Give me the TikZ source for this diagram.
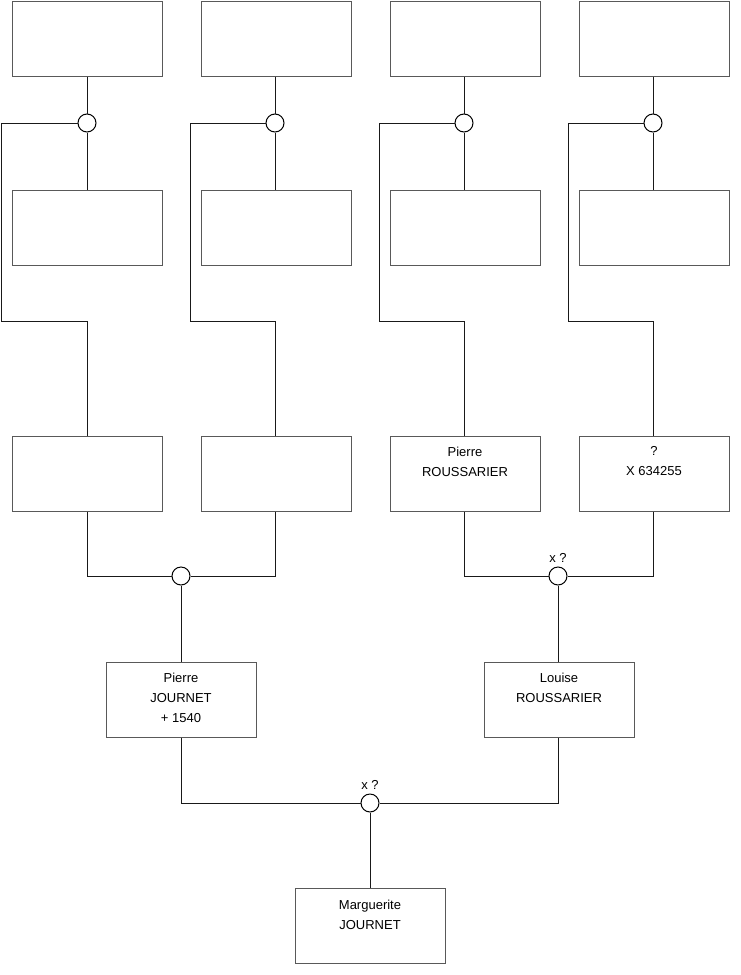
\documentclass[tikz,border=0pt]{standalone}
\usepackage{fontspec}
\setmainfont{Liberation Sans}
\begin{document}
\begin{tikzpicture}[x=1pt,y=-1pt,
  box/.style={draw=black!65,line width=1pt,fill=white,minimum width=150pt,minimum height=75pt,inner sep=0pt,anchor=north west},
  knot/.style={circle,draw=black,line width=1pt,fill=white,minimum size=18pt,inner sep=0pt},
  wire/.style={draw=black!90,line width=1pt},
  txt/.style={anchor=north,inner sep=0pt,align=center,font=\fontsize{13}{20}\selectfont},
  mlabel/.style={inner sep=0pt,font=\fontsize{13}{15}\selectfont}]
\useasboundingbox (0,0) rectangle (740,975);
% rows
\node[box] (a1) at (11.5,0.5) {};
\node[box] (a2) at (200.5,0.5) {};
\node[box] (a3) at (389.5,0.5) {};
\node[box] (a4) at (578.5,0.5) {};
\node[box] (b1) at (11.5,189.5) {};
\node[box] (b2) at (200.5,189.5) {};
\node[box] (b3) at (389.5,189.5) {};
\node[box] (b4) at (578.5,189.5) {};
\node[box] (c1) at (11.5,435.5) {};
\node[box] (c2) at (200.5,435.5) {};
\node[box] (c3) at (389.5,435.5) {};
\node[box] (c4) at (578.5,435.5) {};
\node[box] (d1) at (105.5,661.5) {};
\node[box] (d2) at (483.5,661.5) {};
\node[box] (e1) at (294.5,887.5) {};
% texts
\node[txt] (tc3) at ([yshift=-11]c3.north) {Pierre\\ROUSSARIER};
\node[txt] (tc4) at ([yshift=-11]c4.north) {?\\X 634255};
\node[txt] (td1) at ([yshift=-11]d1.north) {Pierre\\JOURNET\\+ 1540};
\node[txt] (td2) at ([yshift=-11]d2.north) {Louise\\ROUSSARIER};
\node[txt] (te1) at ([yshift=-12]e1.north) {Marguerite\\JOURNET};
% knots
\node[knot] (k1) at (87,123) {};
\node[knot] (k2) at (275,123) {};
\node[knot] (k3) at (464,123) {};
\node[knot] (k4) at (653,123) {};
\node[knot] (k5) at (181,576) {};
\node[knot] (k6) at (558,576) {};
\node[knot] (k7) at (370,803) {};
\node[mlabel] (l6) at (558,558) {x ?};
\node[mlabel] (l7) at (370,785) {x ?};
% connectors top
\foreach \i/\x/\xl in {1/87/1, 2/275/190, 3/464/379, 4/653/568}{
  \draw[wire] (a\i.south -| k\i) -- (k\i.north);
  \draw[wire] (k\i.south) -- (b\i.north -| k\i);
  \draw[wire] (k\i.west) -- (\xl,123) -- (\xl,321) -- (\x,321) -- (c\i.north -| k\i);
}
% lower
\draw[wire] (c1.south -| 87,0) -- (87,576) -- (k5.west);
\draw[wire] (c2.south -| 275,0) -- (275,576) -- (k5.east);
\draw[wire] (k5.south) -- (d1.north -| k5);
\draw[wire] (c3.south -| 464,0) -- (464,576) -- (k6.west);
\draw[wire] (c4.south -| 653,0) -- (653,576) -- (k6.east);
\draw[wire] (k6.south) -- (d2.north -| k6);
\draw[wire] (d1.south -| 181,0) -- (181,803) -- (k7.west);
\draw[wire] (d2.south -| 558,0) -- (558,803) -- (k7.east);
\draw[wire] (k7.south) -- (e1.north -| k7);
\end{tikzpicture}
\end{document}
